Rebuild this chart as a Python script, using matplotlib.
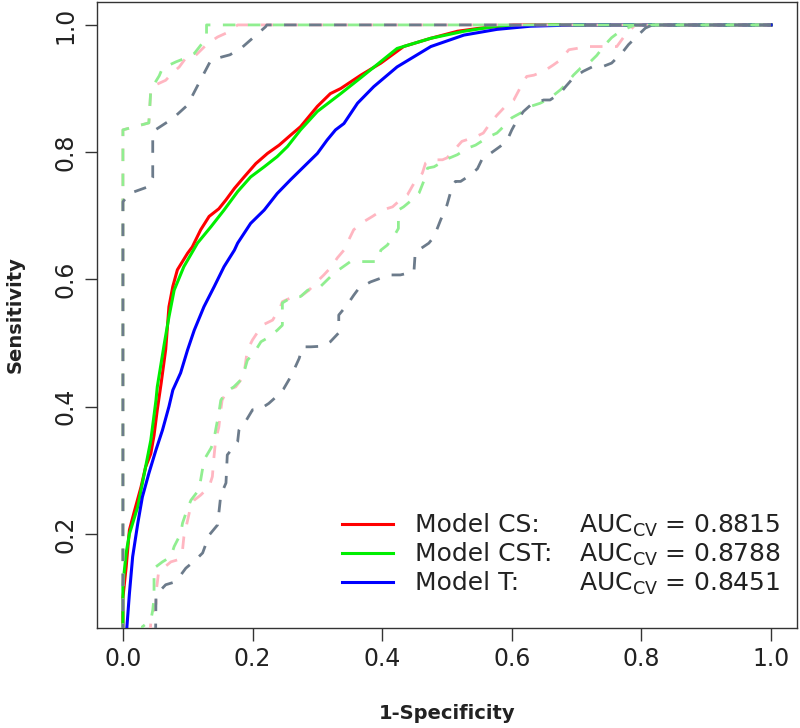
import matplotlib
matplotlib.use("Agg")
import matplotlib.pyplot as plt
from matplotlib.lines import Line2D

plt.rcParams['font.family'] = ['DejaVu Sans']
plt.rcParams['mathtext.default'] = 'regular'

# ---------------- data ----------------
x_ticks = [0.0, 0.2, 0.4, 0.6, 0.8, 1.0]
x_tick_labels = ["0.0", "0.2", "0.4", "0.6", "0.8", "1.0"]
y_ticks = [0.2, 0.4, 0.6, 0.8, 1.0]
y_tick_labels = ["0.2", "0.4", "0.6", "0.8", "1.0"]

model_names = ["Model CS:", "Model CST:", "Model T:"]
auc_values = ["0.8815", "0.8788", "0.8451"]

# Model CS (red)
cs_fpr = [0, 0, 0.005, 0.01, 0.017, 0.028, 0.035, 0.043, 0.048, 0.053, 0.059, 0.066, 0.071, 0.077,
          0.084, 0.0997, 0.107, 0.12, 0.133, 0.148, 0.159, 0.172, 0.187, 0.205, 0.223, 0.241, 0.259,
          0.274, 0.3, 0.32, 0.336, 0.367, 0.398, 0.433, 0.475, 0.516, 0.552, 0.603, 1.0]
cs_tpr = [0, 0.10, 0.148, 0.206, 0.233, 0.274, 0.305, 0.326, 0.355, 0.395, 0.437, 0.49, 0.557, 0.589,
          0.615, 0.641, 0.651, 0.678, 0.699, 0.711, 0.725, 0.743, 0.761, 0.782, 0.798, 0.811, 0.827,
          0.84, 0.872, 0.892, 0.9, 0.921, 0.94, 0.966, 0.979, 0.99, 0.995, 1.0, 1.0]

# Model CST (green)
cst_fpr = [0, 0, 0.005, 0.01, 0.023, 0.033, 0.043, 0.051, 0.053, 0.064, 0.071, 0.079, 0.094, 0.115,
           0.136, 0.156, 0.177, 0.197, 0.218, 0.238, 0.254, 0.274, 0.3, 0.336, 0.367, 0.423, 0.475,
           0.526, 0.577, 0.66, 1.0]
cst_tpr = [0, 0.12, 0.17, 0.2, 0.243, 0.295, 0.347, 0.41, 0.431, 0.5, 0.541, 0.583, 0.62, 0.657,
           0.683, 0.709, 0.738, 0.761, 0.777, 0.793, 0.809, 0.835, 0.864, 0.892, 0.917, 0.963, 0.979,
           0.99, 0.998, 1.0, 1.0]

# Model T (blue)
t_fpr = [0.003, 0.006, 0.01, 0.015, 0.023, 0.03, 0.04, 0.051, 0.061, 0.071, 0.077, 0.089, 0.0997,
         0.11, 0.125, 0.141, 0.156, 0.172, 0.177, 0.197, 0.218, 0.238, 0.259, 0.279, 0.3, 0.315,
         0.328, 0.341, 0.362, 0.387, 0.423, 0.475, 0.526, 0.577, 0.629, 0.7, 1.0]
t_tpr = [0, 0.052, 0.106, 0.164, 0.217, 0.258, 0.295, 0.332, 0.363, 0.4, 0.426, 0.453, 0.489,
         0.52, 0.557, 0.589, 0.62, 0.646, 0.657, 0.688, 0.709, 0.735, 0.757, 0.777, 0.798, 0.819,
         0.835, 0.845, 0.877, 0.903, 0.934, 0.966, 0.984, 0.993, 0.998, 1.0, 1.0]

# Upper confidence bounds
cs_up_fpr = [0, 0, 0.04, 0.043, 0.051, 0.066, 0.077, 0.087, 0.097, 0.11, 0.12, 0.13, 0.146, 0.159, 0.177, 1.0]
cs_up_tpr = [0, 0.835, 0.846, 0.898, 0.906, 0.913, 0.925, 0.934, 0.948, 0.95, 0.96, 0.97, 0.981, 0.987, 1.0, 1.0]

cst_up_fpr = [0, 0, 0.04, 0.043, 0.05, 0.056, 0.061, 0.082, 0.097, 0.11, 0.12, 0.129, 0.129, 1.0]
cst_up_tpr = [0, 0.835, 0.846, 0.898, 0.91, 0.92, 0.932, 0.942, 0.948, 0.955, 0.968, 0.98, 1.0, 1.0]

t_up_fpr = [0, 0, 0.01, 0.04, 0.046, 0.046, 0.05, 0.077, 0.0997, 0.12, 0.136, 0.154, 0.165, 0.182, 0.220, 0.222, 1.0]
t_up_tpr = [0, 0.722, 0.735, 0.746, 0.76, 0.829, 0.835, 0.853, 0.874, 0.914, 0.945, 0.950, 0.953, 0.963, 0.997, 1.0, 1.0]

# Lower confidence bounds
cs_lo_fpr = [0.04, 0.043, 0.046, 0.051, 0.051, 0.053, 0.055, 0.074, 0.084, 0.092, 0.094, 0.105, 0.11,
             0.12, 0.133, 0.138, 0.14, 0.143, 0.148, 0.151, 0.153, 0.161, 0.174, 0.182, 0.187, 0.192,
             0.2, 0.215, 0.231, 0.243, 0.246, 0.259, 0.274, 0.287, 0.297, 0.31, 0.32, 0.331, 0.341,
             0.346, 0.356, 0.372, 0.385, 0.4, 0.416, 0.428, 0.439, 0.449, 0.462, 0.467, 0.475, 0.493,
             0.5, 0.516, 0.523, 0.544, 0.556, 0.567, 0.577, 0.59, 0.603, 0.618, 0.623, 0.634, 0.649,
             0.664, 0.675, 0.688, 0.7, 0.713, 0.762, 0.772, 0.783, 0.79, 1.0]
cs_lo_tpr = [0, 0.062, 0.075, 0.09, 0.107, 0.123, 0.14, 0.156, 0.159, 0.175, 0.195, 0.245, 0.253,
             0.261, 0.274, 0.29, 0.316, 0.347, 0.368, 0.395, 0.41, 0.426, 0.431, 0.442, 0.453, 0.489,
             0.505, 0.528, 0.536, 0.557, 0.565, 0.571, 0.573, 0.583, 0.594, 0.607, 0.618, 0.634, 0.646,
             0.657, 0.678, 0.691, 0.699, 0.709, 0.714, 0.725, 0.733, 0.751, 0.767, 0.783, 0.788, 0.788,
             0.791, 0.809, 0.817, 0.824, 0.83, 0.846, 0.858, 0.872, 0.882, 0.911, 0.919, 0.921, 0.927,
             0.937, 0.945, 0.961, 0.963, 0.966, 0.966, 0.98, 0.992, 1.0, 1.0]

cst_lo_fpr = [0.025, 0.03, 0.043, 0.046, 0.048, 0.048, 0.061, 0.074, 0.079, 0.084, 0.089, 0.092, 0.0997,
              0.105, 0.117, 0.12, 0.123, 0.125, 0.136, 0.14, 0.143, 0.148, 0.151, 0.159, 0.171, 0.182,
              0.187, 0.192, 0.202, 0.213, 0.225, 0.238, 0.246, 0.246, 0.259, 0.274, 0.285, 0.305, 0.323,
              0.333, 0.351, 0.392, 0.398, 0.408, 0.421, 0.425, 0.425, 0.433, 0.446, 0.457, 0.464, 0.47,
              0.48, 0.49, 0.502, 0.516, 0.531, 0.544, 0.564, 0.577, 0.59, 0.6, 0.618, 0.626, 0.644,
              0.659, 0.675, 0.683, 0.695, 0.706, 0.721, 0.731, 0.744, 0.754, 0.767, 0.783, 0.79, 1.0]
cst_lo_tpr = [0, 0.054, 0.064, 0.08, 0.10, 0.146, 0.156, 0.164, 0.18, 0.19, 0.2, 0.217, 0.24,
              0.253, 0.269, 0.285, 0.303, 0.316, 0.335, 0.345, 0.363, 0.39, 0.41, 0.423, 0.431, 0.442,
              0.455, 0.473, 0.484, 0.502, 0.509, 0.52, 0.528, 0.563, 0.571, 0.573, 0.583, 0.589, 0.607,
              0.615, 0.628, 0.628, 0.646, 0.654, 0.673, 0.68, 0.709, 0.714, 0.725, 0.736, 0.754, 0.775,
              0.777, 0.783, 0.79, 0.796, 0.806, 0.811, 0.824, 0.83, 0.843, 0.854, 0.864, 0.871, 0.877,
              0.885, 0.898, 0.906, 0.921, 0.932, 0.942, 0.952, 0.969, 0.98, 0.99, 0.997, 1.0, 1.0]

t_lo_fpr = [0.05, 0.051, 0.066, 0.079, 0.089, 0.097, 0.112, 0.123, 0.133, 0.146, 0.151, 0.159, 0.161,
            0.177, 0.179, 0.185, 0.19, 0.2, 0.21, 0.225, 0.236, 0.248, 0.256, 0.264, 0.272, 0.277,
            0.29, 0.308, 0.32, 0.333, 0.333, 0.346, 0.356, 0.364, 0.382, 0.398, 0.413, 0.428, 0.449,
            0.451, 0.456, 0.472, 0.48, 0.49, 0.5, 0.508, 0.513, 0.521, 0.536, 0.547, 0.556, 0.567,
            0.582, 0.593, 0.6, 0.608, 0.618, 0.629, 0.649, 0.659, 0.675, 0.683, 0.695, 0.71, 0.724,
            0.739, 0.754, 0.77, 0.78, 0.795, 0.806, 0.817, 1.0]
t_lo_tpr = [0, 0.104, 0.12, 0.124, 0.135, 0.146, 0.159, 0.17, 0.198, 0.214, 0.261, 0.28, 0.324,
            0.345, 0.363, 0.374, 0.378, 0.395, 0.395, 0.405, 0.415, 0.428, 0.442, 0.458, 0.476, 0.494,
            0.494, 0.495, 0.502, 0.516, 0.544, 0.56, 0.575, 0.586, 0.596, 0.602, 0.607, 0.607, 0.612,
            0.643, 0.646, 0.657, 0.667, 0.693, 0.717, 0.746, 0.754, 0.754, 0.764, 0.774, 0.793, 0.798,
            0.809, 0.819, 0.835, 0.85, 0.864, 0.874, 0.882, 0.882, 0.893, 0.903, 0.917, 0.927, 0.934,
            0.934, 0.94, 0.956, 0.969, 0.984, 0.995, 1.0, 1.0]

# ---------------- styling ----------------
col_cs, col_cst, col_t = "#FF0000", "#00EE00", "#0000FF"
col_cs_ci, col_cst_ci, col_t_ci = "#FFB6C1", "#90EE90", "#6C7B8B"

fig = plt.figure(figsize=(8.0, 7.28), dpi=100)
ax = fig.add_axes([97 / 800, 100 / 728, 700 / 800, 626.3 / 728])

solid_lw = 2.2
ax.plot(cs_fpr, cs_tpr, color=col_cs, lw=solid_lw, zorder=3)
ax.plot(cst_fpr, cst_tpr, color=col_cst, lw=solid_lw, zorder=3)
ax.plot(t_fpr, t_tpr, color=col_t, lw=solid_lw, zorder=3)

dash_kw = dict(lw=2.0, dashes=(4.5, 4.5), zorder=4)
ax.plot(cs_up_fpr, cs_up_tpr, color=col_cs_ci, **dash_kw)
ax.plot(cs_lo_fpr, cs_lo_tpr, color=col_cs_ci, **dash_kw)
ax.plot(cst_up_fpr, cst_up_tpr, color=col_cst_ci, **dash_kw)
ax.plot(cst_lo_fpr, cst_lo_tpr, color=col_cst_ci, **dash_kw)
ax.plot(t_up_fpr, t_up_tpr, color=col_t_ci, **dash_kw)
ax.plot(t_lo_fpr, t_lo_tpr, color=col_t_ci, **dash_kw)

ax.set_xlim(-0.04, 1.04)
ax.set_ylim(0.052, 1.0365)

ax.set_xticks(x_ticks)
ax.set_xticklabels(x_tick_labels)
ax.set_yticks(y_ticks)
ax.set_yticklabels(y_tick_labels, rotation=90, va="center")
ax.tick_params(axis="both", direction="out", length=9, width=1.0, color="#333333",
               labelsize=17, labelcolor="#222222")
ax.tick_params(axis="x", pad=5)
ax.tick_params(axis="y", pad=5)
for sp in ax.spines.values():
    sp.set_linewidth(1.0)
    sp.set_color("#333333")

ax.set_xlabel("1-Specificity", fontsize=14, fontweight="bold", va="center", color="#222222")
ax.xaxis.set_label_coords(0.5, -0.137)
ax.set_ylabel("Sensitivity", fontsize=14, fontweight="bold", va="center", color="#222222")
ax.yaxis.set_label_coords(-0.117, 0.5)

handles = [Line2D([], [], color=c, lw=solid_lw) for c in (col_cs, col_cst, col_t)]
leg = ax.legend(handles, model_names, loc="lower left", bbox_to_anchor=(0.335, 0.036),
                frameon=False, fontsize=18, handlelength=2.05, handletextpad=0.9,
                labelspacing=0.2, borderaxespad=0.0)
for t in leg.get_texts():
    t.set_color("#222222")

fig.canvas.draw()
auc_x = 0.703
for t, v in zip(leg.get_texts(), auc_values):
    disp = t.get_transform().transform(t.get_position())
    _, y_data = ax.transData.inverted().transform(disp)
    ax.text(auc_x, y_data, "AUC$_{CV}$ = " + v, fontsize=18, va="baseline", ha="left",
            color="#222222")

fig.savefig("out.png", dpi=100)
